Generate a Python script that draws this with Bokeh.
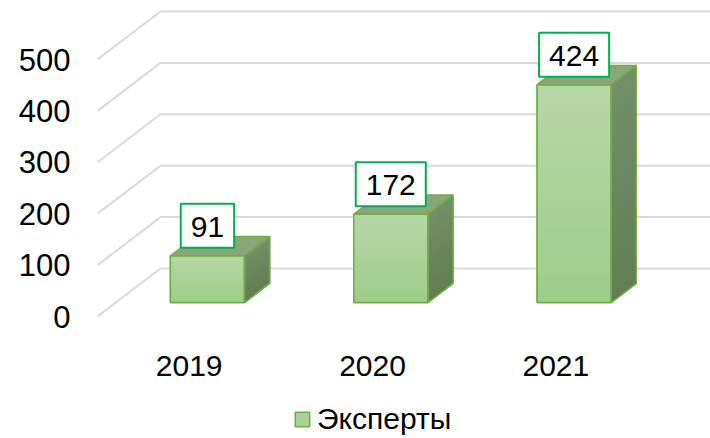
from bokeh.plotting import figure
from bokeh.models import Range1d, FixedTicker, Legend, LegendItem, ColumnDataSource
from bokeh.core.properties import value
from bokeh.embed import file_html
from bokeh.resources import INLINE

# ---- data ----
categories = ["2019", "2020", "2021"]
experts = [91, 172, 424]
y_ticks = [0, 100, 200, 300, 400, 500]
series_name = "Эксперты"

# ---- geometry (screen pixels -> data units) ----
FRAME_W, FRAME_H = 613, 438
FLOOR_PX = 316                           # pixel row of value 0 on the front plane
DEPTH_PX_X, DEPTH_PX_Y = 63, 48          # wall depth offset in pixels
PX_PER_CAT = (FRAME_W - DEPTH_PX_X) / 3.0
PX_PER_VAL = 0.514
DX = DEPTH_PX_X / PX_PER_CAT
DY = DEPTH_PX_Y / PX_PER_VAL
D0, D1 = 0.29, 0.69                      # bar front/back depth fraction
HALF_W = 37 / PX_PER_CAT
N_STRIPS = 24                            # shading steps for the gradient fill

x_lo = -0.5
x_hi = len(categories) - 0.5 + DX
y_hi = FLOOR_PX / PX_PER_VAL
y_lo = -(FRAME_H - FLOOR_PX) / PX_PER_VAL
CAT_LABEL_Y = -(365 - FLOOR_PX) / PX_PER_VAL

FONT = value("Liberation Sans")

FRONT_TOP, FRONT_BOT = "#b6d7a8", "#9fcc89"
SIDE_TOP, SIDE_BOT = "#758f69", "#627e52"
TOP_FACE = "#89a67a"
OUTLINE = "#70ad47"


def mix(c1, c2, t):
    a = [int(c1[k:k + 2], 16) for k in (1, 3, 5)]
    b = [int(c2[k:k + 2], 16) for k in (1, 3, 5)]
    return "#%02x%02x%02x" % tuple(round(a[j] + (b[j] - a[j]) * t) for j in range(3))


p = figure(frame_width=FRAME_W, frame_height=FRAME_H, output_backend="svg",
           toolbar_location=None,
           x_range=Range1d(x_lo, x_hi), y_range=Range1d(y_lo, y_hi),
           min_border_left=97, min_border_right=0, min_border_top=0,
           min_border_bottom=0, x_axis_location=None)
p.outline_line_color = None
p.xgrid.visible = False
p.ygrid.visible = False
p.background_fill_color = "white"
p.border_fill_color = "white"

# value axis
ax = p.yaxis[0]
ax.axis_line_color = None
ax.major_tick_line_color = None
ax.minor_tick_line_color = None
ax.major_tick_out = 0
ax.major_tick_in = 0
ax.minor_tick_out = 0
ax.minor_tick_in = 0
ax.major_label_text_font = "Liberation Sans"
ax.major_label_text_color = "#000000"
ax.major_label_text_font_size = "31px"
ax.ticker = FixedTicker(ticks=y_ticks)
ax.major_label_standoff = 27

# gridlines: diagonal on left wall + horizontal on back wall
gx, gy = [], []
for t in y_ticks:
    gx.append([x_lo, x_lo + DX, x_hi])
    gy.append([t, t + DY, t + DY])
p.multi_line(gx, gy, line_color="#d9d9d9", line_width=2)

# category labels on the front edge of the floor
p.text(x=list(range(len(categories))), y=[CAT_LABEL_Y] * len(categories), text=categories,
       text_font=FONT, text_font_size="30px", text_color="#000000",
       text_align="center", text_baseline="alphabetic")

# bars
front_x, front_y, side_x, side_y, top_x, top_y = [], [], [], [], [], []
fs_x, fs_y, fs_c = [], [], []   # front gradient strips
ss_x, ss_y, ss_c = [], [], []   # side gradient strips
lab_x, lab_y = [], []
ddx = (D1 - D0) * DX
ddy = (D1 - D0) * DY
for i, v in enumerate(experts):
    cx = i + D0 * DX
    y0 = D0 * DY
    y1 = y0 + v
    xl, xr = cx - HALF_W, cx + HALF_W
    front_x.append([xl, xr, xr, xl])
    front_y.append([y0, y0, y1, y1])
    side_x.append([xr, xr + ddx, xr + ddx, xr])
    side_y.append([y0, y0 + ddy, y1 + ddy, y1])
    top_x.append([xl, xr, xr + ddx, xl + ddx])
    top_y.append([y1, y1, y1 + ddy, y1 + ddy])
    for k in range(N_STRIPS):
        a = y1 - v * k / N_STRIPS
        b = y1 - v * (k + 1) / N_STRIPS
        t = (k + 0.5) / N_STRIPS
        fs_x.append([xl, xr, xr, xl])
        fs_y.append([b, b, a, a])
        fs_c.append(mix(FRONT_TOP, FRONT_BOT, t))
        ss_x.append([xr, xr + ddx, xr + ddx, xr])
        ss_y.append([b, b + ddy, a + ddy, a])
        ss_c.append(mix(SIDE_TOP, SIDE_BOT, t))
    lab_x.append(cx)
    lab_y.append(y1 + 8 / PX_PER_VAL)

# solid base faces (also used for the legend swatch)
front = p.patches(front_x, front_y, fill_color="#abd296", line_color=OUTLINE, line_width=1.5)
p.patches(side_x, side_y, fill_color="#6c8a5c", line_color=OUTLINE, line_width=1.5)
# gradient shading
p.patches(ss_x, ss_y, fill_color=ss_c, line_color=ss_c, line_width=1)
p.patches(fs_x, fs_y, fill_color=fs_c, line_color=fs_c, line_width=1)
# top face and outlines
p.patches(top_x, top_y, fill_color=TOP_FACE, line_color=OUTLINE, line_width=1.5)
p.patches(side_x, side_y, fill_color=None, line_color=OUTLINE, line_width=1.5)
p.patches(front_x, front_y, fill_color=None, line_color=OUTLINE, line_width=1.5)

src = ColumnDataSource(dict(x=lab_x, y=lab_y, t=[str(v) for v in experts]))
p.text(x="x", y="y", text="t", source=src, text_font=FONT, text_font_size="30px",
       text_color="#000000", text_align="center", text_baseline="bottom",
       background_fill_color="white", border_line_color="#00b050", border_line_width=2,
       padding=(10, 10, 13, 11))

legend = Legend(items=[LegendItem(label=series_name, renderers=[front])],
                location=(196, 2), orientation="horizontal",
                label_text_font="Liberation Sans", label_text_font_size="30px",
                label_text_color="#000000", glyph_width=18, glyph_height=18,
                label_standoff=6, padding=0, margin=0, border_line_color=None,
                background_fill_alpha=0)
p.add_layout(legend, "center")

open("out.html", "w").write(file_html(p, INLINE))
